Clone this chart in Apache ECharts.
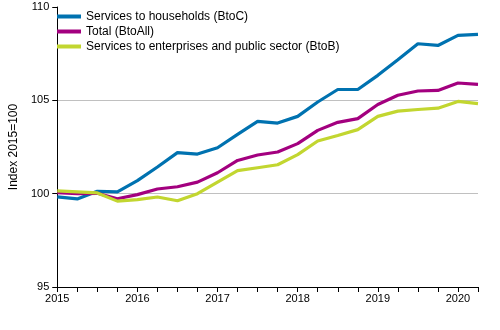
<!DOCTYPE html>
<html><head><meta charset="utf-8">
<script src="https://cdn.jsdelivr.net/npm/echarts@6/dist/echarts.min.js"></script>
<style>html,body{margin:0;padding:0;background:#fff}#c{width:500px;height:330px}</style>
</head><body><div id="c"></div>
<script>
const quarters = ['2015Q1','2015Q2','2015Q3','2015Q4','2016Q1','2016Q2','2016Q3','2016Q4','2017Q1','2017Q2','2017Q3','2017Q4','2018Q1','2018Q2','2018Q3','2018Q4','2019Q1','2019Q2','2019Q3','2019Q4','2020Q1','2020Q2'];
const btoC = [99.83,99.72,100.13,100.1,100.7,101.43,102.2,102.12,102.46,103.18,103.87,103.78,104.14,104.91,105.58,105.58,106.34,107.18,108.03,107.94,108.48,108.53];
const btoAll = [100.05,100.0,100.02,99.73,99.95,100.25,100.37,100.62,101.12,101.78,102.07,102.23,102.68,103.39,103.82,104.02,104.78,105.27,105.5,105.53,105.93,105.86];
const btoB = [100.15,100.1,100.04,99.6,99.68,99.82,99.62,100.0,100.62,101.23,101.39,101.55,102.09,102.82,103.12,103.43,104.14,104.42,104.51,104.58,104.94,104.82];
const seriesNames = ['Services to households (BtoC)','Total (BtoAll)','Services to enterprises and public sector (BtoB)'];
const colors = ['#0072b0','#a3007f','#c2d630'];
const yName = 'Index 2015=100';

const chart = echarts.init(document.getElementById('c'), null, {renderer:'canvas'});
const font = 'Arial, "Liberation Sans", sans-serif';
chart.setOption({
  animation:false,
  textStyle:{fontFamily:font},
  grid:{left:53,right:22,top:7,bottom:43,containLabel:false},
  legend:{
    orient:'vertical', left:57, top:9, padding:0, icon:'rect', itemWidth:24, itemHeight:4, itemGap:0,
    textStyle:{fontSize:12, color:'#000', fontFamily:font, lineHeight:15},
    data:seriesNames
  },
  xAxis:{
    type:'category', data:quarters, boundaryGap:false,
    axisLine:{lineStyle:{color:'#000',width:1}},
    axisTick:{interval:0,length:5,lineStyle:{color:'#000'}},
    axisLabel:{interval:3,color:'#000',fontSize:11,margin:6,fontFamily:font,
      formatter:v=>v.slice(0,4)},
    splitLine:{show:false}
  },
  yAxis:{
    type:'value', min:95, max:110, interval:5,
    name:yName, nameLocation:'middle', nameGap:35, nameRotate:90,
    nameTextStyle:{fontSize:12,color:'#000',fontFamily:font},
    axisLine:{show:true,lineStyle:{color:'#000',width:1}},
    axisTick:{show:true,length:5,lineStyle:{color:'#000'}},
    axisLabel:{color:'#000',fontSize:11,margin:8,fontFamily:font},
    splitLine:{show:true,lineStyle:{color:['rgba(0,0,0,0)','#c0c0c0','#c0c0c0','rgba(0,0,0,0)'],width:1}}
  },
  series:[
    {name:seriesNames[0],type:'line',data:btoC,color:colors[0],showSymbol:false,symbol:'none',lineStyle:{width:3.2,color:colors[0]}},
    {name:seriesNames[1],type:'line',data:btoAll,color:colors[1],showSymbol:false,symbol:'none',lineStyle:{width:3.2,color:colors[1]}},
    {name:seriesNames[2],type:'line',data:btoB,color:colors[2],showSymbol:false,symbol:'none',lineStyle:{width:3.2,color:colors[2]}}
  ]
});
</script></body></html>
